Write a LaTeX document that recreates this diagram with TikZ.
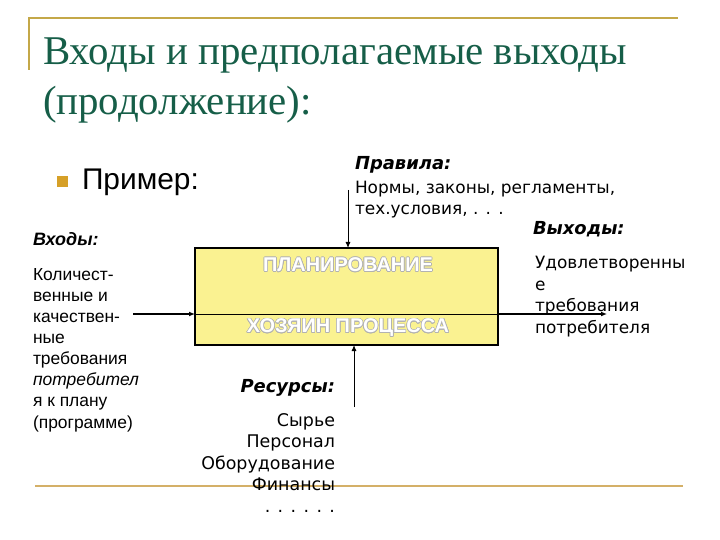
\documentclass[tikz,border=0pt]{standalone}
\usepackage{fontspec}
\setmainfont{Liberation Serif}
\newfontfamily\arialfont{Liberation Sans}
\newfontfamily\verdfont{DejaVu Sans}
\usepackage[copies]{contour}
\usetikzlibrary{arrows.meta}

\definecolor{titlegreen}{RGB}{22,94,72}
\definecolor{goldline}{RGB}{196,168,72}
\definecolor{tanline}{RGB}{212,176,104}
\definecolor{bulletgold}{RGB}{214,160,40}
\definecolor{boxyellow}{RGB}{250,242,145}
\contourlength{0.6pt}

\begin{document}
\begin{tikzpicture}[x=1bp, y=-1bp,
    every node/.style={inner sep=0pt, outer sep=0pt},
    flow/.style={draw=black, -{Latex[length=6bp,width=5bp]}},
    hdr/.style={font=\verdfont\bfseries\itshape\fontsize{18}{21}\selectfont},
    body/.style={font=\verdfont\fontsize{17}{21.5}\selectfont},
    boxtext/.style={text=white, font=\arialfont\bfseries\fontsize{20}{24}\selectfont}
  ]
  \useasboundingbox (0,0) rectangle (720,540);

  % frame lines
  \draw[goldline, line width=2bp] (29,70) -- (29,18) -- (678,18);
  \draw[tanline, line width=2.2bp] (35,486) -- (683,486);

  % title
  \node[anchor=base west, text=titlegreen, font=\fontsize{41}{50}\selectfont] (title1) at (43,65) {Входы и предполагаемые выходы};
  \node[anchor=base west, text=titlegreen, font=\fontsize{41}{50}\selectfont] (title2) at (43,115) {(продолжение):};

  \node[fill=bulletgold, minimum size=11bp] (bullet) at (62.5,182) {};
  \node[anchor=base west, font=\arialfont\fontsize{30}{36}\selectfont] (example) at (82,190) {Пример:};

  % inputs
  \node[anchor=base west, font=\arialfont\bfseries\itshape\fontsize{18}{21}\selectfont] (inhdr) at (33,246) {Входы:};
  \node[anchor=base west, align=left, font=\arialfont\fontsize{17.5}{21.1}\selectfont] (intext) at (33,428)
    {Количест-\\венные и\\качествен-\\ные\\требования\\\textit{потребител}\\я к плану\\(программе)};

  % rules
  \node[hdr, anchor=base west] (ruleshdr) at (355,170) {Правила:};
  \node[body, anchor=base west, align=left] (rules) at (355,215) {Нормы, законы, регламенты,\\тех.условия, . . .};

  % outputs
  \node[hdr, anchor=base west] (outhdr) at (533,235) {Выходы:};
  \node[body, anchor=base west, align=left] (outtext) at (535,333) {Удовлетворенны\\е\\требования\\потребителя};

  % resources
  \node[hdr, anchor=base east] (reshdr) at (335,392) {Ресурсы:};
  \node[anchor=base east, align=right, font=\verdfont\fontsize{17.5}{21.5}\selectfont] (res) at (335,512)
    {Сырье\\Персонал\\Оборудование\\Финансы\\. . . . . .};

  % process box
  \node[draw=black, line width=2bp, fill=boxyellow, minimum width=303bp, minimum height=97bp] (box) at (346.5,296.5) {};
  \node[boxtext] (plan) at (348,265) {\contour{black!30}{ПЛАНИРОВАНИЕ}};
  \node[boxtext] (owner) at (348,328) {\contour{black!30}{ХОЗЯИН ПРОЦЕССА}};

  % connectors
  \coordinate (inStart) at (133,314);
  \coordinate (outEnd) at (607,314);
  \coordinate (rulesEnd) at (348,190);
  \coordinate (resStart) at (354,407);
  \draw[flow, line width=1.6bp] (inStart) -- (inStart -| box.west);
  \draw[line width=1bp] (inStart -| box.west) -- (inStart -| box.east);
  \draw[flow, line width=1.6bp] (inStart -| box.east) -- (outEnd);
  \draw[flow, line width=0.9bp] (rulesEnd) -- (rulesEnd |- box.north);
  \draw[flow, line width=0.9bp] (resStart) -- (resStart |- box.south);
\end{tikzpicture}
\end{document}
